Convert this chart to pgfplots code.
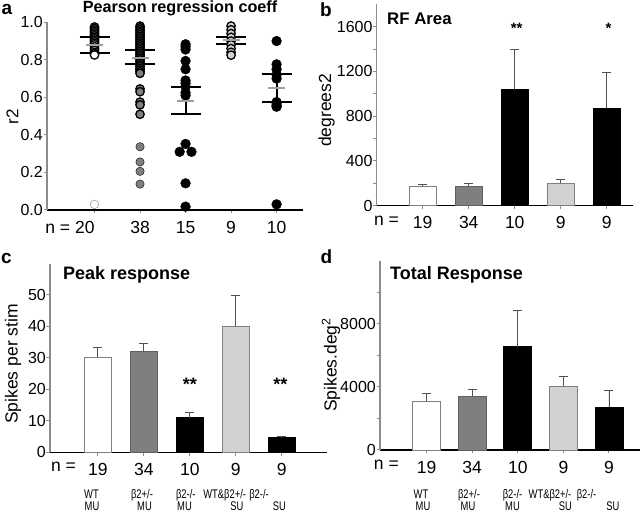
\documentclass[border=0pt]{standalone}
\usepackage{fontspec}
\setmainfont{Liberation Sans}
\newfontfamily\narrowfont[FakeStretch=0.75]{Liberation Sans}
\usepackage{pgfplots}
\pgfplotsset{compat=1.18}
\definecolor{midgray}{HTML}{7F7F7F}
\definecolor{edgegray}{HTML}{606060}
\definecolor{lightgr}{HTML}{D2D2D2}
\definecolor{meangray}{HTML}{A0A0A0}
\definecolor{axgray}{HTML}{8C8C8C}
\definecolor{errgray}{HTML}{505050}
\newcommand{\tfs}{\fontsize{16bp}{19bp}\selectfont}
\newcommand{\xfs}{\fontsize{17.5bp}{19bp}\selectfont}
\newcommand{\gfs}{\narrowfont\fontsize{12.5bp}{14bp}\selectfont}
\pgfplotsset{
  panel/.style={
    scale only axis, anchor=south west,
    axis lines*=left,
    x axis line style={black, line width=1.2bp},
    y axis line style={axgray, line width=1.2bp},
    tick align=outside,
    major tick length=3.5bp, minor tick length=3.5bp,
    tick style={axgray, line width=1bp},
    yticklabel style={font=\tfs, inner sep=0.5bp},
    xticklabel style={font=\xfs, text height=12.5bp, text depth=0bp, yshift=-3.5bp},
    /pgf/number format/assume math mode=true,
    /pgf/number format/1000 sep={},
    scaled y ticks=false,
    clip=false,
  },
  bars/.style={ybar, bar width=#1, bar shift=0pt, line width=0.8bp,
    /pgfplots/error bars/y dir=plus, /pgfplots/error bars/y explicit,
    /pgfplots/error bars/error bar style={errgray, line width=0.9bp},
    /pgfplots/error bars/error mark options={rotate=90, errgray, mark size=4.5bp, line width=0.9bp}},
  edged/.style={only marks, mark=*, mark size=4.2bp, mark options={fill=#1, draw=black, line width=1.3bp}},
}
\tikzset{glab/.style={font=\gfs, anchor=base, inner sep=0}}
\begin{document}
\begin{tikzpicture}
\useasboundingbox (0,0) rectangle (640bp,513bp);
% ---------------- panel a
\begin{axis}[panel, at={(47bp,303bp)}, width=256bp, height=187.7bp,
  xmin=-1.044, xmax=4.58, ymin=0, ymax=1.0,
  ytick={0,0.2,0.4,0.6,0.8,1.0},
  yticklabel style={/pgf/number format/.cd, fixed, fixed zerofill, precision=1},
  xtick={0,1,2,3,4},
  xticklabels={\makebox[0pt][r]{n = 20},38,15,9,10}]
\addplot[edged=white] coordinates {(0,0.975)(0,0.968)(0,0.96)(0,0.952)(0,0.944)(0,0.936)(0,0.928)(0,0.92)(0,0.912)(0,0.904)(0,0.896)(0,0.888)(0,0.88)(0,0.87)(0,0.86)(0,0.85)(0,0.84)(0,0.833)(0,0.826)};
\addplot[only marks, mark=*, mark size=4.3bp, mark options={fill=white, draw=meangray, line width=0.6bp}] coordinates {(0,0.03)};
\addplot[edged=midgray] coordinates {(1,0.980)(1,0.971)(1,0.962)(1,0.953)(1,0.944)(1,0.935)(1,0.926)(1,0.917)(1,0.908)(1,0.899)(1,0.890)(1,0.881)(1,0.872)(1,0.863)(1,0.854)(1,0.845)(1,0.836)(1,0.827)(1,0.818)(1,0.809)(1,0.800)(1,0.791)(1,0.782)(1,0.773)(1,0.764)(1,0.755)(1,0.746)(1,0.737)(1,0.728)(1,0.645)(1,0.63)(1,0.575)(1,0.56)(1,0.51)};
\addplot[only marks, mark=*, mark size=4.2bp, mark options={fill=midgray, draw=none}] coordinates {(1,0.337)(1,0.256)(1,0.206)(1,0.138)};
\addplot[only marks, mark=*, mark size=4.9bp, mark options={fill=black, draw=none}] coordinates {(2,0.883)(2,0.87)(2,0.855)(2,0.794)(2,0.75)(2,0.69)(2,0.675)(2,0.657)(2,0.625)(2,0.61)(2,0.352)(1.87,0.31)(2.13,0.31)(2,0.142)(2,0.018)};
\addplot[edged=lightgr] coordinates {(3,0.98)(3,0.96)(3,0.94)(3,0.92)(3,0.90)(3,0.88)(3,0.86)(3,0.84)(3,0.825)};
\addplot[only marks, mark=*, mark size=4.9bp, mark options={fill=black, draw=none}] coordinates {(4,0.90)(4,0.776)(4,0.75)(4,0.72)(4,0.70)(4,0.575)(4,0.565)(4,0.555)(4,0.55)(4,0.03)};
\addplot[only marks, mark=-, mark size=8.5bp, mark options={meangray, line width=2bp},
  error bars/.cd, y dir=both, y explicit,
  error bar style={black, line width=2bp},
  error mark options={rotate=90, black, line width=2bp, mark size=15bp}]
  coordinates {(0,0.879) += (0,0.043) -= (0,0.044)
               (1,0.812) += (0,0.040) -= (0,0.036)
               (2,0.582) += (0,0.075) -= (0,0.072)
               (3,0.905) += (0,0.018) -= (0,0.021)
               (4,0.648) += (0,0.075) -= (0,0.074)};
\end{axis}
% ---------------- panel b
\begin{axis}[panel, at={(376.7bp,307.3bp)}, width=256.3bp, height=201.4bp,
  xmin=-1.0, xmax=4.57, ymin=0, ymax=1800,
  ytick={0,400,800,1200,1600}, minor ytick={200,600,1000,1400},
  xtick={0,1,2,3,4}, xticklabels={19,34,10,9,9},
  extra x ticks={-0.787}, extra x tick labels={n =}, extra x tick style={major tick length=0pt}]
\addplot[bars=26.7bp, fill=white, draw=midgray] coordinates {(0,170) +- (0,20)};
\addplot[bars=26.7bp, fill=midgray, draw=edgegray] coordinates {(1,172) +- (0,23)};
\addplot[bars=26.7bp, fill=black, draw=black] coordinates {(2,1040) +- (0,360)};
\addplot[bars=26.7bp, fill=lightgr, draw=midgray] coordinates {(3,203) +- (0,30)};
\addplot[bars=26.7bp, fill=black, draw=black] coordinates {(4,870) +- (0,322)};
\node[font=\fontsize{15bp}{15bp}\selectfont\bfseries] at (axis cs:2.04,1585) {**};
\node[font=\fontsize{15bp}{15bp}\selectfont\bfseries] at (axis cs:4.04,1585) {*};
\end{axis}
% ---------------- panel c
\begin{axis}[panel, at={(50bp,60.7bp)}, width=277bp, height=188.8bp,
  xmin=-1.039, xmax=4.983, ymin=0, ymax=60,
  ytick={0,10,20,30,40,50},
  xtick={0,1,2,3,4}, xticklabels={19,34,10,9,9},
  extra x ticks={-0.746}, extra x tick labels={n =}, extra x tick style={major tick length=0pt}]
\addplot[bars=26.7bp, fill=white, draw=midgray] coordinates {(0,30.3) +- (0,3.0)};
\addplot[bars=26.7bp, fill=midgray, draw=edgegray] coordinates {(1,32.2) +- (0,2.5)};
\addplot[bars=26.7bp, fill=black, draw=black] coordinates {(2,11.0) +- (0,1.7)};
\addplot[bars=26.7bp, fill=lightgr, draw=midgray] coordinates {(3,40.1) +- (0,9.7)};
\addplot[bars=26.7bp, fill=black, draw=black] coordinates {(4,4.6) +- (0,0.5)};
\node[font=\fontsize{18bp}{18bp}\selectfont\bfseries] at (axis cs:2,21.5) {**};
\node[font=\fontsize{18bp}{18bp}\selectfont\bfseries] at (axis cs:3.97,21.5) {**};
\end{axis}
% ---------------- panel d
\begin{axis}[panel, at={(380bp,63bp)}, width=260bp, height=189bp,
  xmin=-1.02, xmax=4.68, ymin=0, ymax=12000,
  ytick={0,4000,8000}, minor ytick={2000,6000,10000},
  xtick={0,1,2,3,4}, xticklabels={19,34,10,9,9},
  extra x ticks={-0.88}, extra x tick labels={n =}, extra x tick style={major tick length=0pt}]
\addplot[bars=28bp, fill=white, draw=midgray] coordinates {(0,3090) +- (0,510)};
\addplot[bars=28bp, fill=midgray, draw=edgegray] coordinates {(1,3430) +- (0,420)};
\addplot[bars=28bp, fill=black, draw=black] coordinates {(2,6560) +- (0,2300)};
\addplot[bars=28bp, fill=lightgr, draw=midgray] coordinates {(3,4060) +- (0,600)};
\addplot[bars=28bp, fill=black, draw=black] coordinates {(4,2730) +- (0,1060)};
\end{axis}
% ---------------- texts
\node[font=\fontsize{19bp}{19bp}\selectfont\bfseries, inner sep=0] at (7bp,503.5bp) {a};
\node[font=\fontsize{19bp}{19bp}\selectfont\bfseries, inner sep=0] at (326bp,503.3bp) {b};
\node[font=\fontsize{19bp}{19bp}\selectfont\bfseries, inner sep=0] at (6.3bp,255bp) {c};
\node[font=\fontsize{19bp}{19bp}\selectfont\bfseries, inner sep=0] at (326.5bp,256bp) {d};
\node[font=\fontsize{16.2bp}{17bp}\selectfont\bfseries, anchor=base, inner sep=0] at (180bp,500.3bp) {Pearson regression coeff};
\node[font=\fontsize{16.8bp}{17bp}\selectfont\bfseries, anchor=base west, inner sep=0] at (387bp,488bp) {RF Area};
\node[font=\fontsize{18bp}{18bp}\selectfont\bfseries, anchor=base west, inner sep=0] at (63bp,233.7bp) {Peak response};
\node[font=\fontsize{18bp}{18bp}\selectfont\bfseries, anchor=base west, inner sep=0] at (390bp,233.7bp) {Total Response};
\node[font=\fontsize{17bp}{18bp}\selectfont, rotate=90, inner sep=0] at (12.5bp,396.5bp) {r2};
\node[font=\fontsize{17.5bp}{18bp}\selectfont, rotate=90, inner sep=0] at (326.5bp,402.5bp) {degrees2};
\node[font=\fontsize{17.5bp}{18bp}\selectfont, rotate=90, inner sep=0] at (13bp,149bp) {Spikes per stim};
\node[font=\fontsize{17.5bp}{18bp}\selectfont, rotate=90, inner sep=0] at (331bp,148bp) {Spikes.deg\textsuperscript{2}};
% group labels c
\node[glab] at (91.5bp,14.5bp) {WT};
\node[glab] at (142bp,14.5bp) {β2+/-};
\node[glab] at (185.8bp,14.5bp) {β2-/-};
\node[glab] at (224.7bp,14.5bp) {WT\&β2+/-};
\node[glab] at (259bp,14.5bp) {β2-/-};
\node[glab] at (92bp,2.2bp) {MU};
\node[glab] at (144.5bp,2.2bp) {MU};
\node[glab] at (184.5bp,2.2bp) {MU};
\node[glab] at (237bp,2.2bp) {SU};
\node[glab] at (279.5bp,2.2bp) {SU};
% group labels d
\node[glab] at (421bp,14.5bp) {WT};
\node[glab] at (469bp,14.5bp) {β2+/-};
\node[glab] at (512.5bp,14.5bp) {β2-/-};
\node[glab] at (550bp,14.5bp) {WT\&β2+/-};
\node[glab] at (586.5bp,14.5bp) {β2-/-};
\node[glab] at (423bp,2.2bp) {MU};
\node[glab] at (468bp,2.2bp) {MU};
\node[glab] at (512.5bp,2.2bp) {MU};
\node[glab] at (565.5bp,2.2bp) {SU};
\node[glab] at (613bp,2.2bp) {SU};
\end{tikzpicture}
\end{document}
